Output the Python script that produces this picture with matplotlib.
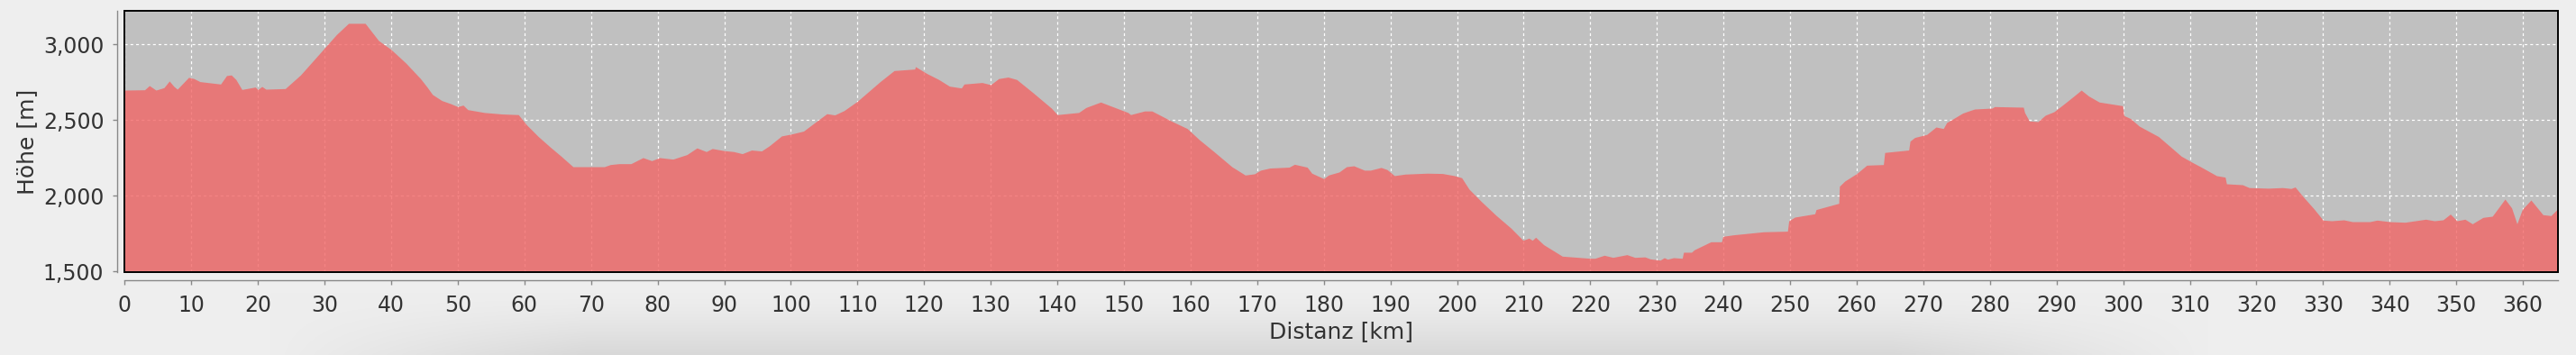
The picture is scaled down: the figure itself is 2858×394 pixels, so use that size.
import numpy as np
import matplotlib
matplotlib.use("Agg")
import matplotlib.pyplot as plt
from matplotlib.patches import Rectangle
from matplotlib.ticker import FuncFormatter, MultipleLocator

# ---- data: distance [km] and elevation [m] ----
distance_km = [0, 3.0, 3.7, 4.7, 5.9, 6.7, 7.4, 7.9, 9.6, 10.4, 11.3, 14.4, 15.3, 16.0, 16.7, 17.6,
               19.6, 20.0, 20.6, 21.2, 24.1, 26.4, 28.2, 30.0, 31.8, 33.6, 36.1, 38.1, 40.0, 42.2,
               44.4, 45.4, 46.2, 47.6, 48.9, 50.0, 50.8, 51.5, 54.0, 56.7, 59.1, 60.3, 62.1, 63.9,
               65.5, 67.3, 70.0, 72.0, 72.9, 74.2, 76.0, 77.8, 79.1, 80.3, 82.3, 84.4, 85.9, 87.3,
               88.2, 90.0, 91.4, 92.7, 94.1, 95.6, 96.8, 98.6, 100.0, 101.9, 103.5, 105.4, 106.6,
               108.0, 110.0, 113.4, 115.5, 118.6, 118.7, 120.4, 122.2, 123.8, 125.6, 126.0, 128.7,
               130.0, 131.2, 132.6, 133.9, 136.4, 139.1, 140.0, 141.8, 143.2, 144.3, 146.5, 150.6,
               151.0, 153.1, 154.2, 157.1, 159.5, 161.3, 163.5, 166.2, 168.2, 169.6, 170.5, 171.9,
               174.8, 175.6, 177.5, 178.2, 180.0, 180.7, 182.3, 183.4, 184.5, 186.1, 187.0, 188.6,
               189.5, 190.6, 192.2, 195.5, 197.8, 199.6, 200.7, 201.8, 203.6, 205.9, 208.1, 209.9,
               210.8, 211.3, 211.8, 213.0, 215.8, 220.0, 220.7, 222.1, 223.4, 225.5, 226.7, 228.2,
               229.0, 230.5, 231.1, 231.6, 232.5, 233.8, 234.0, 235.2, 235.6, 238.1, 239.7, 239.9,
               241.5, 246.0, 249.6, 249.8, 250.7, 253.7, 253.9, 257.3, 257.4, 258.2, 260.0, 261.5,
               264.0, 264.2, 267.8, 268.0, 268.7, 270.5, 271.9, 273.0, 273.5, 274.3, 275.9, 277.0,
               277.7, 280.3, 280.7, 285.0, 285.2, 285.9, 287.2, 288.3, 289.6, 290.9, 292.5, 293.7,
               294.8, 296.4, 299.9, 300.1, 301.1, 302.4, 305.3, 308.7, 310.3, 311.6, 314.0, 315.3,
               315.5, 317.9, 318.9, 321.8, 323.9, 325.2, 325.8, 327.0, 328.6, 330.0, 331.3, 333.1,
               334.4, 337.0, 338.1, 340.0, 342.3, 345.4, 346.7, 348.0, 349.1, 350.1, 351.3, 352.4,
               354.0, 355.4, 357.3, 358.3, 359.1, 359.9, 361.2, 363.0, 364.2, 365.3]

elevation_m = [2698, 2700, 2728, 2698, 2714, 2758, 2722, 2704, 2782, 2774, 2754, 2738, 2794, 2798, 2768, 2702,
               2718, 2702, 2722, 2704, 2708, 2798, 2887, 2976, 3065, 3139, 3139, 3026, 2966, 2877,
               2774, 2718, 2669, 2629, 2609, 2589, 2599, 2569, 2550, 2540, 2536, 2470, 2391, 2321,
               2262, 2192, 2192, 2192, 2206, 2212, 2212, 2252, 2232, 2252, 2242, 2272, 2316, 2292,
               2312, 2298, 2292, 2278, 2302, 2296, 2331, 2395, 2407, 2427, 2480, 2542, 2534,
               2563, 2625, 2754, 2827, 2837, 2853, 2808, 2768, 2724, 2712, 2738, 2748,
               2734, 2774, 2784, 2768, 2679, 2579, 2536, 2544, 2550, 2583, 2619, 2550,
               2536, 2560, 2560, 2494, 2444, 2371, 2292, 2192, 2137, 2145, 2169, 2183,
               2189, 2208, 2189, 2149, 2113, 2137, 2157, 2192, 2198, 2169, 2169, 2187,
               2173, 2133, 2143, 2149, 2147, 2133, 2119, 2044, 1964, 1869, 1786, 1706,
               1720, 1706, 1726, 1677, 1601, 1587, 1587, 1607, 1593, 1611, 1593, 1596,
               1583, 1575, 1591, 1581, 1591, 1587, 1627, 1627, 1643, 1696, 1696, 1732,
               1742, 1762, 1766, 1835, 1859, 1881, 1909, 1950, 2063, 2097, 2147, 2202,
               2206, 2286, 2302, 2361, 2385, 2405, 2454, 2444, 2484, 2504, 2546, 2563,
               2573, 2579, 2589, 2585, 2550, 2494, 2490, 2532, 2555, 2599, 2655, 2698,
               2659, 2619, 2595, 2530, 2510, 2460, 2391, 2262, 2222, 2192, 2133, 2123,
               2079, 2073, 2054, 2050, 2054, 2048, 2058, 1994, 1915, 1839, 1835, 1841,
               1829, 1829, 1839, 1829, 1825, 1845, 1835, 1841, 1879, 1835, 1845, 1815,
               1857, 1865, 1978, 1920, 1815, 1910, 1972, 1875, 1869, 1917]

assert len(distance_km) == len(elevation_m), (len(distance_km), len(elevation_m))

x_label = "Distanz [km]"
y_label = "Höhe [m]"

W, H = 2858, 394
fig = plt.figure(figsize=(W / 100, H / 100), dpi=100)
fig.patch.set_facecolor("#eeeeee")

# subtle drop-shadow at the bottom of the panel
bg = fig.add_axes([0, 0, 1, 1], zorder=-10)
xx = np.arange(W)[None, :]
yy = np.arange(H)[:, None]
xs = np.clip((xx - 300) / 350, 0, 1) * np.clip((2450 - xx) / 350, 0, 1)
ys = np.clip((yy - 325) / 69, 0, 1) ** 1.4
shade = 238 - 22 * xs * ys
img = np.dstack([shade, shade, shade]).astype(np.uint8)
bg.imshow(img, aspect="auto", extent=[0, 1, 0, 1], interpolation="bilinear")
bg.axis("off")

left, right = 138.3 / W, 2838.3 / W
bottom, top = 1 - 302.3 / H, 1 - 12.3 / H
ax = fig.add_axes([left, bottom, right - left, top - bottom])
ax.set_facecolor("#c0c0c0")

ax.set_xlim(0, 365.3)
ax.set_ylim(1494, 3220)

ax.set_axisbelow(True)
ax.grid(True, color="white", linestyle=(0, (2.5, 2.5)), linewidth=0.9)
ax.fill_between(distance_km, elevation_m, 1400, color="#f26666", alpha=0.8,
                linewidth=0, zorder=2)

ax.xaxis.set_major_locator(MultipleLocator(10))
ax.yaxis.set_major_locator(MultipleLocator(500))
ax.yaxis.set_major_formatter(FuncFormatter(lambda v, p: f"{int(v):,}"))

for s in ("top", "right"):
    ax.spines[s].set_visible(False)
for s in ("left", "bottom"):
    ax.spines[s].set_position(("outward", 6))
    ax.spines[s].set_color("#888888")
    ax.spines[s].set_linewidth(1.0)
ax.spines["bottom"].set_bounds(0, 365.3)
ax.spines["left"].set_bounds(1494, 3220)

ax.add_patch(Rectangle((0, 0), 1, 1, transform=ax.transAxes, fill=False,
                       edgecolor="black", linewidth=1.4, zorder=5, clip_on=False))

ax.tick_params(axis="both", colors="#888888", labelcolor="#333333", length=3.5,
               width=1.0, labelsize=17)
ax.tick_params(axis="x", pad=8)
ax.tick_params(axis="y", pad=7)

ax.set_xlabel(x_label, fontsize=18, color="#333333", labelpad=4)
ax.set_ylabel(y_label, fontsize=18, color="#333333", labelpad=4)

fig.savefig("out.png", dpi=100, facecolor=fig.get_facecolor())
